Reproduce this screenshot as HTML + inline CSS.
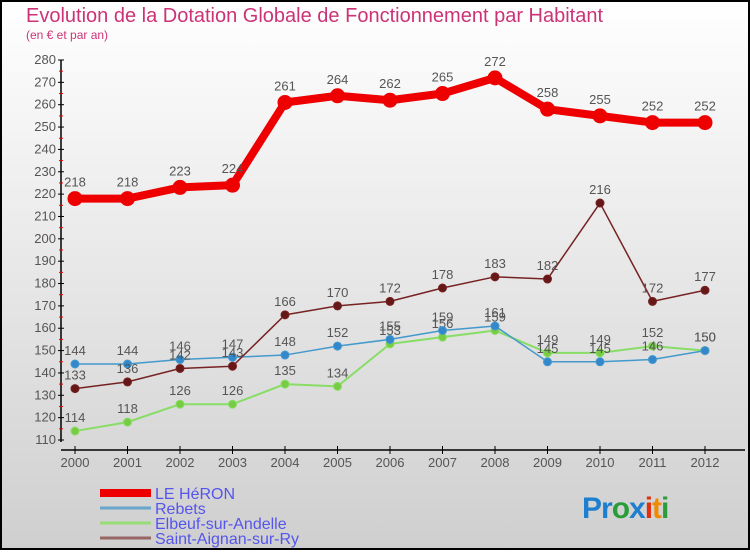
<!DOCTYPE html>
<html><head><meta charset="utf-8"><style>
body{margin:0;width:750px;height:550px;overflow:hidden;font-family:"Liberation Sans",sans-serif}
</style></head><body>
<svg width="750" height="550" xmlns="http://www.w3.org/2000/svg">
<defs><linearGradient id="bg" x1="0" y1="0" x2="0" y2="1"><stop offset="0" stop-color="#ffffff"/><stop offset="1" stop-color="#cfcfcf"/></linearGradient></defs>
<rect x="1" y="1" width="748" height="548" fill="url(#bg)" stroke="#000" stroke-width="2"/>
<text x="26" y="22" font-size="20" fill="#cc3377">Evolution de la Dotation Globale de Fonctionnement par Habitant</text>
<text x="26" y="39" font-size="12" fill="#cc3377">(en € et par an)</text>
<g id="axes"></g>
<g id="series"></g>
<g id="legend"></g>
<text x="582" y="518" font-size="30" font-weight="bold" letter-spacing="-1"><tspan fill="#1e7fd0">Pr</tspan><tspan fill="#2a9d3a">o</tspan><tspan fill="#1e7fd0">x</tspan><tspan fill="#e03010">i</tspan><tspan fill="#f08a00">t</tspan><tspan fill="#2a9d3a">i</tspan></text>
</svg>
<script>
const years=[2000,2001,2002,2003,2004,2005,2006,2007,2008,2009,2010,2011,2012];
const yTicks=[110,120,130,140,150,160,170,180,190,200,210,220,230,240,250,260,270,280];
const heron=[218,218,223,224,261,264,262,265,272,258,255,252,252];
const rebets=[144,144,146,147,148,152,155,159,161,145,145,146,150];
const elbeuf=[114,118,126,126,135,134,153,156,159,149,149,152,150];
const aignan=[133,136,142,143,166,170,172,178,183,182,216,172,177];
const NS="http://www.w3.org/2000/svg";
const xS=i=>75+i*52.5;
const yS=v=>440-(v-110)*(380/170);
function mk(tag,attrs,parent){const e=document.createElementNS(NS,tag);for(const k in attrs)e.setAttribute(k,attrs[k]);parent.appendChild(e);return e;}
const ax=document.getElementById('axes');
let l=mk('line',{x1:61,y1:yS(280),x2:61,y2:yS(110)+2,stroke:'#000','stroke-width':1.5},ax);


yTicks.forEach((v,i)=>{
  const t=mk('line',{x1:58,x2:64,y1:yS(v),y2:yS(v),stroke:'#000'},ax);
  
  
  if(i<yTicks.length-1){const m=mk('line',{x1:59,x2:63,y1:yS(v+5),y2:yS(v+5),stroke:'#e00'},ax);
  
  }
  const tx=mk('text',{x:56,y:yS(v)+4,'font-size':13,fill:'#555','text-anchor':'end'},ax);tx.textContent=v;
  
  
});
l=mk('line',{x1:61,y1:450,x2:745,y2:450,stroke:'#000','stroke-width':1.5},ax);


years.forEach((y,i)=>{
  const t=mk('line',{x1:xS(i),x2:xS(i),y1:446,y2:454,stroke:'#000'},ax);
  
  
  const tx=mk('text',{x:xS(i),y:467,'font-size':13,fill:'#555','text-anchor':'middle'},ax);tx.textContent=y;
  
  
});
const sg=document.getElementById('series');
function series(vals,color,w,r,name,fill){
  const g=mk('g',{},sg);
  
  
  const p=mk('polyline',{points:vals.map((v,i)=>xS(i)+','+yS(v)).join(' '),fill:'none',stroke:color,'stroke-width':w,'stroke-linejoin':'round'},g);
  
  
  vals.forEach((v,i)=>{
    const c=mk('circle',{cx:xS(i),cy:yS(v),r:r,fill:fill,stroke:color,'stroke-width':1},g);
    
    
    const t=mk('text',{x:xS(i),y:yS(v)-r-5,'font-size':13,fill:'#555','text-anchor':'middle'},g);t.textContent=v;
    
    
  });
}
series(elbeuf,'#88dd66',2,4,'elbeuf-series','#77cc44');
series(rebets,'#4499cc',1.5,4,'rebets-series','#3388cc');
series(aignan,'#772222',1.5,4,'saint-aignan-series','#661818');
series(heron,'#ee0000',8,7,'heron-series','#ee0000');
const lg=document.getElementById('legend');
const names=['LE HéRON','Rebets','Elbeuf-sur-Andelle','Saint-Aignan-sur-Ry'];
const cols=['#ee0000','#6aa6cc','#99dd77','#996666'];
const ws=[8,3,3,3];
names.forEach((n,i)=>{
  const y=493+i*15;
  const ln=mk('line',{x1:100,x2:151,y1:y,y2:y,stroke:cols[i],'stroke-width':ws[i]},lg);
  
  
  const t=mk('text',{x:155,y:y+6,'font-size':16,fill:'#5555ee'},lg);t.textContent=n;
  
  
});
</script>
</body></html>
